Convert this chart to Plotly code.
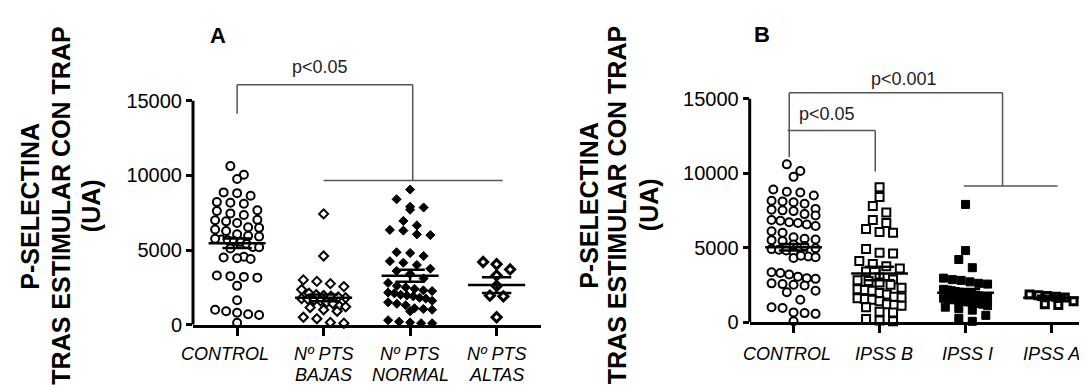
import numpy as np
import plotly.graph_objects as go

W, H = 1087, 385

# ---------------- data ----------------
cats_a = ["CONTROL", "Nº PTS|BAJAS", "Nº PTS|NORMAL", "Nº PTS|ALTAS"]
cats_b = ["CONTROL", "IPSS B", "IPSS I", "IPSS A"]
y_ticks = [0, 5000, 10000, 15000]

a_control = [10620, 10040, 9760, 8640, 8860, 8810, 8165, 8210, 8100, 7350, 7670, 7610, 7455,
             6920, 7025, 7000, 6810, 6380, 6485, 6530, 6270, 5950, 5900, 6050, 5700, 5650,
             5600, 5750, 5550, 5400, 5200, 5190, 5100, 4500, 4550, 4400, 4450, 3200, 3250,
             3300, 3150, 2600, 1640, 900, 700, 1000, 800, 650, 130]
a_bajas = [7420, 4600, 3000, 2900, 2750, 2550, 2350, 2100, 2000, 1950, 1900, 1850, 1800, 1750,
           1700, 1650, 1600, 1500, 1400, 1250, 1200, 1150, 1000, 900, 500, 400, 150, 100]
a_normal = [9050, 8400, 7900, 7850, 7700, 6950, 6650, 6350, 6300, 6050, 6000, 4800, 4850, 4600,
            4250, 4150, 4000, 3750, 3600, 3400, 3100, 2800, 2600, 2500, 2400, 2300, 2250, 2150,
            2100, 2000, 1950, 1900, 1800, 1750, 1600, 1500, 1400, 1300, 1100, 1050, 1000, 900,
            300, 200, 150, 100, 100]
a_altas = [4200, 4050, 3700, 3300, 2600, 1950, 1900, 500]
a_mean = [5460, 1800, 3280, 2650]
a_sem = [320, 230, 400, 520]

b_control = [10590, 10150, 9750, 8700, 8900, 8750, 8500, 8150, 8050, 8100, 7950, 7600, 7500,
             7450, 7550, 7150, 7250, 6850, 6650, 6700, 6800, 6450, 6550, 6100, 6000, 5700,
             5500, 5600, 5450, 5550, 5200, 5100, 4950, 4900, 4850, 4800, 4700, 4400, 4350,
             4300, 4450, 3300, 3200, 3350, 3050, 2950, 2900, 2600, 2550, 2450, 2500, 2100,
             2000, 1500, 1000, 950, 650, 600, 550, 50]
b_ipssb = [9050, 8400, 7800, 7350, 6850, 6650, 6050, 6000, 6250, 4900, 4600, 4650, 4100, 3900,
           3600, 3750, 3400, 3000, 2850, 2800, 2750, 2650, 2500, 2300, 2200, 2150, 2100, 1950,
           1850, 1700, 1650, 1600, 1550, 1500, 1400, 1200, 1150, 1100, 1000, 700, 650, 200,
           100, 50]
b_ipssi = [7900, 4800, 4200, 3650, 2950, 2850, 2800, 2700, 2600, 2550, 2200, 2150, 2100, 2050,
           2000, 1950, 1900, 1850, 1800, 1750, 1700, 1650, 1600, 1550, 1500, 1450, 1400, 1350,
           1300, 1250, 1200, 1100, 1000, 900, 800, 450, 250, 50]
b_ipssa = [1750, 1800, 1850, 1700, 1650, 1400, 1200, 1150]
b_mean = [5020, 3260, 1960, 1630]
b_sem = [220, 450, 260, 140]

# ---------------- geometry (pixels) ----------------
A_Y0, A_PPU = 326.0, 0.01537     # y pixel of value 0, pixels per unit
B_Y0, B_PPU = 323.3, 0.01533
A_AX, A_CAT = 185.0, 86.5        # y-axis pixel x, pixels per category
B_AX, B_CAT = 741.7, 86.0
XR0 = -0.51
YMAX = 20000


def swarm(vals, ppu, pcat, row_px=9, step_px=13.5, max_half_px=22):
    vals = np.asarray(vals, float)
    order = np.argsort(-vals, kind="stable")
    bins, cur = [], []
    for idx in order:
        if cur and (vals[cur[0]] - vals[idx]) * ppu > row_px:
            bins.append(cur)
            cur = []
        cur.append(idx)
    bins.append(cur)
    off = np.zeros(len(vals))
    for b in bins:
        n = len(b)
        step = step_px
        if n > 1 and (n - 1) * step_px / 2 > max_half_px:
            step = 2 * max_half_px / (n - 1)
        for k, idx in enumerate(b):
            off[idx] = (k - (n - 1) / 2) * step / pcat
    return off


fig = go.Figure()


def add_group(vals, i, xa, ya, ppu, pcat, symbol, size, fill, lw):
    off = swarm(vals, ppu, pcat)
    fig.add_trace(go.Scatter(
        x=i + off, y=vals, mode="markers", xaxis=xa, yaxis=ya, cliponaxis=False,
        marker=dict(symbol=symbol, size=size, color=fill, line=dict(color="black", width=lw)),
        hoverinfo="skip"))


def add_mean_sem(means, sems, xa, ya):
    xs, ys = [], []
    for i, (m, s) in enumerate(zip(means, sems)):
        xs += [i - 0.33, i + 0.33, None, i - 0.17, i + 0.17, None,
               i - 0.17, i + 0.17, None, i, i, None]
        ys += [m, m, None, m + s, m + s, None, m - s, m - s, None, m - s, m + s, None]
    fig.add_trace(go.Scatter(x=xs, y=ys, mode="lines", xaxis=xa, yaxis=ya,
                             line=dict(color="black", width=2.5), hoverinfo="skip",
                             cliponaxis=False))


# Panel A
add_group(a_control, 0, "x", "y", A_PPU, A_CAT, "circle", 8, "white", 2)
add_group(a_bajas, 1, "x", "y", A_PPU, A_CAT, "diamond", 7, "white", 2)
add_group(a_normal, 2, "x", "y", A_PPU, A_CAT, "diamond", 7, "black", 1)
add_group(a_altas, 3, "x", "y", A_PPU, A_CAT, "diamond", 7, "white", 3)
add_mean_sem(a_mean, a_sem, "x", "y")

# Panel B
add_group(b_control, 0, "x2", "y2", B_PPU, B_CAT, "circle", 8, "white", 2)
add_group(b_ipssb, 1, "x2", "y2", B_PPU, B_CAT, "square", 8, "white", 2)
add_group(b_ipssi, 2, "x2", "y2", B_PPU, B_CAT, "square", 8, "black", 1)
add_group(b_ipssa, 3, "x2", "y2", B_PPU, B_CAT, "square", 7, "white", 3)
add_mean_sem(b_mean, b_sem, "x2", "y2")

tickfont = dict(family="Liberation Sans, Arial", size=20, color="black")


def xaxis_cfg(ax, cat):
    return dict(domain=[ax / W, (ax + (3.51 - XR0) * cat) / W if ax < 600 else 1.0],
                range=[XR0, 3.51 if ax < 600 else XR0 + (W - ax) / cat],
                showgrid=False, zeroline=False, showline=True, linecolor="black", linewidth=3,
                ticks="outside", ticklen=8, tickwidth=2.5, tickcolor="black",
                tickvals=[0, 1, 2, 3], ticktext=["", "", "", ""], fixedrange=True)


def yaxis_cfg(y0, ppu):
    top = y0 - YMAX * ppu
    return dict(domain=[1 - y0 / H, 1 - top / H], range=[0, YMAX], showgrid=False,
                zeroline=False, showline=False, ticks="outside", ticklen=6, tickwidth=2.5,
                tickcolor="black", tickvals=y_ticks, ticktext=[str(v) for v in y_ticks],
                tickfont=tickfont, fixedrange=True)


fig.update_layout(
    width=W, height=H, margin=dict(l=0, r=0, t=0, b=0),
    paper_bgcolor="white", plot_bgcolor="rgba(0,0,0,0)", showlegend=False,
    hovermode=False,
    xaxis=xaxis_cfg(A_AX, A_CAT), yaxis=yaxis_cfg(A_Y0, A_PPU),
    xaxis2=dict(xaxis_cfg(B_AX, B_CAT), anchor="y2"), yaxis2=dict(yaxis_cfg(B_Y0, B_PPU), anchor="x2"),
)

shapes = []
# y-axis lines 0..15000
for xr, yr in (("x domain", "y"), ("x2 domain", "y2")):
    shapes.append(dict(type="line", xref=xr, yref=yr, x0=0, x1=0, y0=0, y1=15000,
                       line=dict(color="black", width=3)))

GREY = dict(color="#555555", width=1.5)


def seg(xr, yr, x0, y0, x1, y1):
    shapes.append(dict(type="line", xref=xr, yref=yr, x0=x0, y0=y0, x1=x1, y1=y1, line=GREY))


# Panel A bracket
seg("x", "y", 0, 14120, 0, 16070)
seg("x", "y", 0, 16070, 2.03, 16070)
seg("x", "y", 2.03, 16070, 2.03, 9650)
seg("x", "y", 1.0, 9650, 3.07, 9650)
# Panel B brackets
seg("x2", "y2", -0.05, 11090, -0.05, 15390)
seg("x2", "y2", -0.05, 15390, 2.43, 15390)
seg("x2", "y2", 2.43, 15390, 2.43, 9130)
seg("x2", "y2", 1.98, 9130, 3.07, 9130)
seg("x2", "y2", -0.07, 12870, 0.95, 12870)
seg("x2", "y2", 0.95, 12870, 0.95, 10110)
fig.update_layout(shapes=shapes)

ann = []
pfont = dict(family="Liberation Sans, Arial", size=18, color="#222222")
ann.append(dict(text="p<0.05", xref="x", yref="y", x=0.96, y=17260, showarrow=False,
                font=pfont, xanchor="center"))
ann.append(dict(text="p<0.001", xref="x2", yref="y2", x=1.28, y=16350, showarrow=False,
                font=pfont, xanchor="center"))
ann.append(dict(text="p<0.05", xref="x2", yref="y2", x=0.39, y=13960, showarrow=False,
                font=pfont, xanchor="center"))

bold = dict(family="Liberation Sans, Arial", size=22, color="black")
ann.append(dict(text="<b>A</b>", xref="paper", yref="paper", x=210 / W, y=1 - 28 / H,
                showarrow=False, font=bold, xanchor="center", yanchor="middle"))
ann.append(dict(text="<b>B</b>", xref="paper", yref="paper", x=754 / W, y=1 - 27 / H,
                showarrow=False, font=bold, xanchor="center", yanchor="middle"))

title_lines = ["P-SELECTINA", "TRAS ESTIMULAR CON TRAP", "(UA)"]
tfont = dict(family="Liberation Sans, Arial", size=25, color="black")
for xs, yc in (((22.5, 53.5, 83), 204), ((581.6, 609, 641), 203)):
    for xpix, t in zip(xs, title_lines):
        ann.append(dict(text="<b>" + t + "</b>", xref="paper", yref="paper", x=xpix / W,
                        y=1 - yc / H, textangle=-90, showarrow=False, font=tfont,
                        xanchor="center", yanchor="middle"))

lfont = dict(family="Liberation Sans, Arial", size=18, color="black", style="italic")
a_shift = [-12, 0, 0, 0]
for i, c in enumerate(cats_a):
    parts = c.split("|")
    for k, p in enumerate(parts):
        ann.append(dict(text=p, xref="x", yref="paper", x=i, xshift=a_shift[i],
                        y=1 - (356 + 22 * k) / H, showarrow=False, font=lfont,
                        xanchor="center", yanchor="middle"))
b_shift = [-7, 4, 2, 0]
for i, c in enumerate(cats_b):
    ann.append(dict(text=c, xref="x2", yref="paper", x=i, xshift=b_shift[i],
                    y=1 - 356 / H, showarrow=False, font=lfont,
                    xanchor="center", yanchor="middle"))
fig.update_layout(annotations=ann)

fig.write_html("out.html")
